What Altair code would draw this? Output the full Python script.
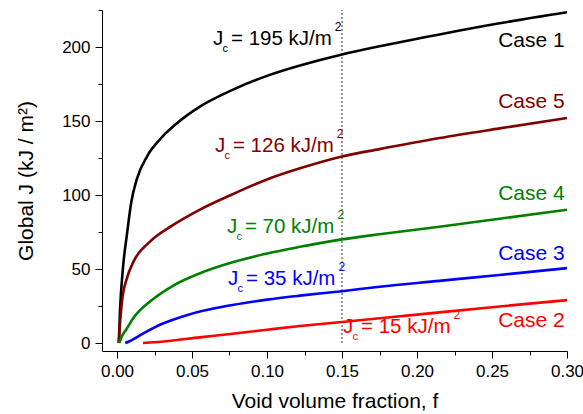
import altair as alt
import pandas as pd

FONT = "Liberation Sans"

# Global J versus void volume fraction f for each case
case_names = ["Case 1", "Case 5", "Case 4", "Case 3", "Case 2"]
case_colors = ["#000000", "#800000", "#008000", "#0000FF", "#FF0000"]

case1_f = [0.0012, 0.002, 0.004, 0.0067, 0.0095, 0.013, 0.020, 0.029, 0.040, 0.055,
           0.077, 0.100, 0.122, 0.150, 0.175, 0.215, 0.255, 0.300]
case1_J = [0, 22, 51, 74, 95, 110, 126, 138, 148.5, 159.5,
           171, 180.5, 187.5, 195, 200.5, 208.5, 216, 223.5]

case5_f = [0.0012, 0.002, 0.0033, 0.0067, 0.011, 0.022, 0.037, 0.055, 0.077,
           0.100, 0.122, 0.150, 0.175, 0.215, 0.255, 0.300]
case5_J = [0, 13, 28, 44, 55, 68.5, 79.5, 90, 100.5,
           110.5, 118, 126, 131, 138.5, 145, 152]

case4_f = [0.0015, 0.003, 0.0067, 0.011, 0.022, 0.037, 0.055, 0.077, 0.100, 0.122,
           0.150, 0.175, 0.215, 0.255, 0.300]
case4_J = [0, 4, 10, 17, 28, 38.5, 47, 54.5, 60.5, 65,
           70, 73.5, 78.5, 84, 90]

case3_f = [0.0055, 0.008, 0.015, 0.029, 0.047, 0.077, 0.100, 0.122, 0.150, 0.175,
           0.215, 0.255, 0.300]
case3_J = [0, 1, 5, 12.5, 19, 25.7, 29.3, 32, 35, 38,
           42, 46, 50.6]

case2_f = [0.0173, 0.022, 0.033, 0.055, 0.077, 0.100, 0.122, 0.150, 0.200, 0.250, 0.300]
case2_J = [0, 0.3, 1.2, 3.8, 6.3, 9, 11.5, 14.2, 19.2, 24.2, 29]

series_f = [case1_f, case5_f, case4_f, case3_f, case2_f]
series_J = [case1_J, case5_J, case4_J, case3_J, case2_J]

# Critical J annotations: value, anchor (f, J) at the start of the "J"
jc_values = [195, 126, 70, 35, 15]
jc_f = [0.064, 0.0653, 0.0733, 0.074, 0.1507]
jc_J = [201.4, 129, 74.3, 39.2, 6.8]

# Case names at the right-hand end of each curve
case_label_f = [0.2985] * 5
case_label_J = [200, 158.8, 96.6, 56, 10.8]

x_major = [0.0, 0.05, 0.10, 0.15, 0.20, 0.25, 0.30]
x_minor = [0.025, 0.075, 0.125, 0.175, 0.225, 0.275]
y_major = [0, 50, 100, 150, 200]
y_minor = [25, 75, 125, 175, 225]
marker_f = 0.15

rows = []
for name, fs, js in zip(case_names, series_f, series_J):
    for i, (f, j) in enumerate(zip(fs, js)):
        rows.append({"case": name, "f": f, "J": j, "order": i})
curves = pd.DataFrame(rows)

color = alt.Color("case:N", scale=alt.Scale(domain=case_names, range=case_colors), legend=None)
x_scale = alt.Scale(domain=[-0.01, 0.30], nice=False, zero=False)
y_scale = alt.Scale(domain=[-5.4, 225], nice=False, zero=False)

X = alt.X("f:Q", scale=x_scale, axis=alt.Axis(
    values=x_major, format=".2f", title="Void volume fraction, f",
    tickSize=7, labelPadding=5, titlePadding=11, labelFlush=False, orient="bottom"))
Y = alt.Y("J:Q", scale=y_scale, axis=alt.Axis(
    values=y_major, title="Global J (kJ / m²)",
    tickSize=7, labelPadding=5, titlePadding=25, labelFlush=False, orient="left"))

lines = alt.Chart(curves).mark_line(strokeWidth=2.6, interpolate="monotone").encode(
    x=X, y=Y, color=color, order="order:Q", detail="case:N"
)

# Short minor ticks on their own axes, drawn over the same edges
minor = alt.Chart(curves).mark_line(opacity=0).encode(
    x=alt.X("f:Q", scale=x_scale, axis=alt.Axis(
        values=x_minor, tickSize=4, labels=False, domain=False, title=None, orient="bottom")),
    y=alt.Y("J:Q", scale=y_scale, axis=alt.Axis(
        values=y_minor, tickSize=4, labels=False, domain=False, title=None, orient="left")),
    detail="case:N",
)

marker = alt.Chart(pd.DataFrame({"f": [marker_f], "J": [0], "J2": [225]})).mark_rule(
    color="#333333", strokeWidth=1, strokeDash=[2, 2]
).encode(x=X, y=Y, y2="J2:Q")

labels = pd.DataFrame({
    "case": case_names,
    "f": jc_f,
    "J": jc_J,
    "rest": [f"= {v} kJ/m" for v in jc_values],
})

ADV = {" ": 0.278, "=": 0.584, "k": 0.5, "J": 0.5, "/": 0.278, "m": 0.833}
for d in "0123456789":
    ADV[d] = 0.556


def text_width(s, size):
    return sum(ADV.get(c, 0.556) for c in s) * size


LBL = 20.5
REST_DX = 18
j_main = alt.Chart(labels).mark_text(
    text="J", align="left", baseline="alphabetic", font=FONT, fontSize=LBL
).encode(x=X, y=Y, color=color)
j_sub = alt.Chart(labels).mark_text(
    text="c", align="left", baseline="alphabetic", font=FONT, fontSize=11, dx=9.5, dy=7
).encode(x=X, y=Y, color=color)
j_rest = alt.Chart(labels).mark_text(
    align="left", baseline="alphabetic", font=FONT, fontSize=LBL, dx=REST_DX
).encode(x=X, y=Y, color=color, text="rest:N")

sups = []
for i in range(len(labels)):
    one = labels.iloc[[i]]
    w = text_width(one["rest"].iloc[0], LBL)
    sups.append(
        alt.Chart(one).mark_text(
            text="2", align="left", baseline="alphabetic", font=FONT, fontSize=12,
            dx=REST_DX + w + 3, dy=-14
        ).encode(x=X, y=Y, color=color)
    )

case_tbl = pd.DataFrame({"case": case_names, "f": case_label_f, "J": case_label_J})
case_text = alt.Chart(case_tbl).mark_text(
    align="right", baseline="alphabetic", font=FONT, fontSize=21
).encode(x=X, y=Y, color=color, text="case:N")

main = alt.layer(marker, lines, j_main, j_sub, j_rest, *sups, case_text)

chart = alt.layer(main, minor).resolve_axis(x="independent", y="independent").properties(
    width=465,
    height=341,
    padding={"left": 102, "top": 10, "right": 16, "bottom": 63},
    autosize="none",
).configure_view(stroke=None).configure_axis(
    grid=False,
    domainColor="#000000",
    domainWidth=1,
    tickColor="#000000",
    tickWidth=1,
    labelFont=FONT,
    labelFontSize=17,
    labelColor="#000000",
    titleFont=FONT,
    titleFontSize=21,
    titleFontWeight="normal",
    titleColor="#000000",
)

chart.save("out.html", embed_options={"renderer": "svg", "actions": False})
